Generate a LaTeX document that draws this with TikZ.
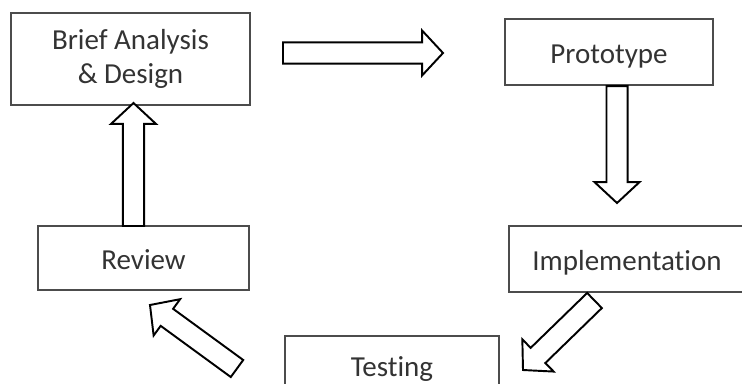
\documentclass[tikz,border=0pt]{standalone}
\usepackage{fontspec}
\setmainfont[Ligatures=NoCommon]{Carlito}
\usetikzlibrary{calc}

\tikzset{
  stage/.style={draw=black!70, line width=1.2pt, align=center, text=black!80,
    font=\fontsize{16.5}{19}\selectfont},
  oneline/.style={text height=12.8pt, text depth=0pt},
  fatarrow/.style={draw=black, line width=1.1pt, fill=white}
}

% block arrow from tail #1 to tip #2
\newcommand{\blockarrow}[2]{%
  \coordinate (hb) at ($(#2)!11.9pt!(#1)$);
  \draw[fatarrow] ($(#1)!6pt!90:(#2)$) -- ($(hb)!6pt!-90:(#1)$)
    -- ($(hb)!12.8pt!-90:(#1)$) -- (#2) -- ($(hb)!12.8pt!90:(#1)$)
    -- ($(hb)!6pt!90:(#1)$) -- ($(#1)!6pt!-90:(#2)$) -- cycle;
}

\begin{document}
\begin{tikzpicture}[x=0.02cm, y=-0.02cm]
    \useasboundingbox (0,0) rectangle (742,383);
    \clip (0,0) rectangle (742,383);

    \node[stage, minimum width=4.78cm, minimum height=1.84cm] (brief) at (130.5,59) {Brief Analysis\\ \& Design};
    \node[stage, oneline, minimum width=4.16cm, minimum height=1.32cm] (proto) at (609,52) {Prototype};
    \node[stage, oneline, minimum width=4.72cm, minimum height=1.32cm] (impl) at (627,259) {Implementation};
    \node[stage, oneline, minimum width=4.28cm, minimum height=1.16cm] (test) at (392,365) {Testing};
    \node[stage, oneline, minimum width=4.22cm, minimum height=1.28cm] (review) at (143.5,258) {Review};

    % arrow ends
    \coordinate (a1) at (283,53);
    \coordinate (a2) at (443,53);
    \coordinate (b1) at ($(proto.south)+(8,0)$);
    \coordinate (b2) at (617,203);
    \coordinate (c1) at (594.5,300.5);
    \coordinate (c2) at (523,370);
    \coordinate (d1) at (237,368.5);
    \coordinate (d2) at (150,305);
    \coordinate (e1) at (133.5,226);
    \coordinate (e2) at (133.5,103);

    \blockarrow{a1}{a2}
    \blockarrow{b1}{b2}
    \blockarrow{c1}{c2}
    \blockarrow{d1}{d2}
    \blockarrow{e1}{e2}

\end{tikzpicture}
\end{document}
